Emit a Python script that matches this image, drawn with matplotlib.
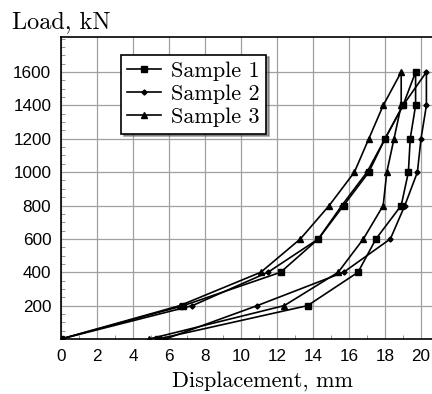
import numpy as np
import matplotlib
matplotlib.use("Agg")
import matplotlib.pyplot as plt
from matplotlib.ticker import MultipleLocator

# load levels, kN (loading then unloading)
load_up = [0, 200, 400, 600, 800, 1000, 1200, 1400, 1600]
load_down = [1600, 1400, 1200, 1000, 800, 600, 400, 200, 0]

# displacement, mm
s1_up = [0, 6.8, 12.2, 14.3, 15.7, 17.1, 18.0, 19.0, 19.7]
s1_down = [19.7, 19.7, 19.4, 19.3, 18.9, 17.5, 16.5, 13.7, 5.4]
s2_up = [0, 7.3, 11.5, 14.3, 15.6, 17.0, 18.0, 19.0, 20.3]
s2_down = [20.3, 20.3, 20.0, 19.8, 19.1, 18.3, 15.7, 10.9, 5.8]
s3_up = [0, 6.6, 11.1, 13.3, 14.9, 16.3, 17.1, 17.9, 18.9]
s3_down = [18.9, 18.9, 18.5, 18.1, 17.9, 16.8, 15.4, 12.4, 4.9]

labels = ["Sample 1", "Sample 2", "Sample 3"]
markers = ["s", "D", "^"]
msizes = [4, 2.6, 4]

serif = ["cmr10", "DejaVu Serif"]

fig = plt.figure(figsize=(4.32, 3.94), dpi=100)
ax = fig.add_axes([61/432, 55/394, 21*18/432, 302/394])

series = [(s1_up, s1_down), (s2_up, s2_down), (s3_up, s3_down)]
for (up, down), lab, m, ms in zip(series, labels, markers, msizes):
    x = up + down[1:]
    y = load_up + load_down[1:]
    ax.plot(x, y, color="black", lw=1.2, marker=m, ms=ms, label=lab, zorder=3)

ax.set_xlim(0, 21)
ax.set_ylim(0, 1810)
ax.set_xticks(np.arange(0, 21, 2))
ax.set_yticks(np.arange(200, 1601, 200))
ax.xaxis.set_minor_locator(MultipleLocator(1))
ax.yaxis.set_minor_locator(MultipleLocator(50))
ax.grid(True, which="major", color="#a0a0a0", lw=0.9)
ax.tick_params(which="both", direction="in", top=False, right=False)
ax.tick_params(which="major", length=0, labelsize=12.3, pad=7)
ax.tick_params(which="minor", length=3, color="#808080")
for lab in ax.get_xticklabels() + ax.get_yticklabels():
    lab.set_family("Liberation Sans")
for sp in ax.spines.values():
    sp.set_linewidth(1.2)

leg = ax.legend(loc="upper left", bbox_to_anchor=(0.158, 0.942), frameon=True,
                fancybox=False, shadow=True, prop={"family": serif, "size": 16},
                handlelength=1.5, handletextpad=0.45, borderpad=0.3, labelspacing=0.16,
                borderaxespad=0)
leg.get_frame().set_edgecolor("black")
leg.get_frame().set_linewidth(1.2)

fig.text(12/432, 1 - 22/394, "Load, kN", family=serif, fontsize=17.5, va="center", ha="left")
fig.text(262/432, 1 - 381/394, "Displacement, mm", family=serif, fontsize=16, va="center", ha="center")

fig.savefig("out.png", dpi=100)
